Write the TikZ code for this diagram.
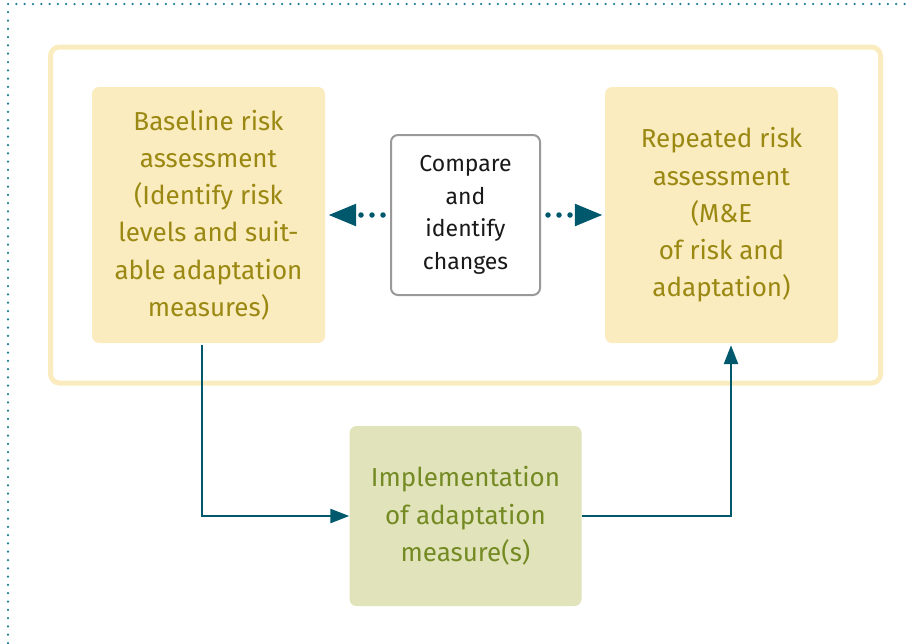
\documentclass[tikz,border=0pt]{standalone}
\usepackage{fontspec}
\setmainfont{Fira Sans}
\usetikzlibrary{positioning,arrows.meta}
\definecolor{riskfill}{HTML}{FAECBE}
\definecolor{risktext}{HTML}{9A8812}
\definecolor{implfill}{HTML}{E1E3BB}
\definecolor{impltext}{HTML}{748A22}
\definecolor{flowteal}{HTML}{00586D}
\definecolor{dotteal}{HTML}{1E7D95}
\definecolor{cmpgray}{HTML}{999999}

\begin{document}
\begin{tikzpicture}[x=1pt,y=-1pt,node distance=257pt]
\tikzstyle{every node}=[font=\fontsize{26}{37.3}\selectfont]
\tikzstyle{stage}=[rectangle,rounded corners=7pt,fill=riskfill,text=risktext,align=center,minimum width=233pt,minimum height=256pt,inner sep=0pt]
\tikzstyle{impl}=[stage,fill=implfill,text=impltext,minimum width=232pt,minimum height=180pt]
\tikzstyle{cmp}=[rectangle,rounded corners=7pt,draw=cmpgray,line width=2pt,fill=white,text=black!90,align=center,minimum width=149pt,minimum height=160pt,inner sep=0pt,font=\fontsize{23}{32.5}\selectfont]
\tikzstyle{frame}=[rectangle,rounded corners=9pt,draw=riskfill,line width=5pt,minimum width=830pt,minimum height=336pt]
\tikzstyle{flow}=[draw=flowteal,line width=2.5pt,-{Triangle[length=19pt,width=14pt]}]
\tikzstyle{dotflow}=[draw=flowteal,line width=5.5pt,line cap=round,dash pattern=on 0pt off 11pt,-{Triangle[length=28pt,width=21pt]}]

\useasboundingbox (0,0) rectangle (912,643);
\draw[dotteal,line width=2.5pt,line cap=round,dash pattern=on 0pt off 8.3pt] (8,643) -- (8,4) -- (912,4);

\node[stage] (B) at (208.5,215) {Baseline risk\\assessment\\(Identify risk\\levels and suit-\\able adaptation\\measures)};
\node[cmp,right of=B] (C) {Compare\\and\\identify\\changes};
\node[stage,right of=C,node distance=256pt] (R) {Repeated risk\\assessment\\(M\&E\\of risk and\\adaptation)};
\node[impl,below of=C,node distance=301pt] (I) {Implementation\\of adaptation\\measure(s)};
\node[frame,at=(C)] (F) {};

\draw[dotflow,shorten <=7pt,shorten >=3pt] (C.west) -- (B.east);
\draw[dotflow,shorten <=7pt,shorten >=2pt] (C.east) -- (R.west);
\draw[flow] ([xshift=-6.5pt,yshift=-2pt]B.south) |- (I.west);
\draw[flow] (I.east) -| ([xshift=9.5pt,yshift=-2pt]R.south);
\end{tikzpicture}
\end{document}
